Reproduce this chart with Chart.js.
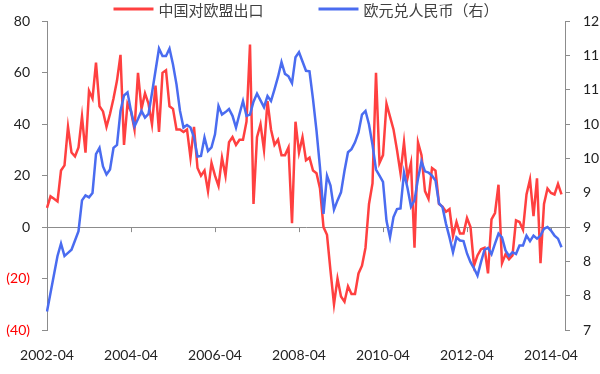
<!DOCTYPE html>
<html><head><meta charset="UTF-8">
<script src="https://cdn.jsdelivr.net/npm/chart.js@4"></script>
<style>
html,body{margin:0;padding:0;background:#fff;}
</style></head><body>
<canvas id="c" width="600" height="374"></canvas>
<script>
// monthly categories 2002-04 .. 2014-08
const months = [];
for (let y = 2002, m = 4; months.length < 149; m++) {
    if (m > 12) { m = 1; y++; }
    months.push(y + '-' + String(m).padStart(2, '0'));
}
const xTickLabels = ['2002-04','2004-04','2006-04','2008-04','2010-04','2012-04','2014-04'];
const rightTickLabels = ['7','8','8','9','9','10','10','11','11','12'];

// 中国对欧盟出口 同比 (%), left axis
const exportsEU = [
    7.5,12,11,10,22,24,39,29,27.5,31, 43,29,53,50,64,47,45,39,44,50, 57,67,32,48,45,38,
    60,46,52,48,40,55,37,60,61,47, 46,38,38,37,38,27,39,23,20,22, 14,25,20,16,
    27,20,33,35,32,34,34,41,71,9, 35,40,30,49,38,32,34,28,28,31, 1.5,41,29,35,26,
    27,22,21,15,0,-3,-17,-30,-20,-27, -29,-23,-26,-26,-18,-15,-8,9,17,60, 25,28,48,43,38,
    30,21,33,19,25,-8,33,28,14,11, 23,22,9,8,6,7,-3.5,2,-2.5,-2.5, 3.5,0,
    -15,-11,-8.6,-8,-18,3,5.5,16.5,-14,-10.6, -12.5,-11,2.6,2,-1,12.7,18.5,4.3,19,-14, 9,15,13.3,12.7,16.8,12.7, null
];
// 欧元兑人民币, right axis
const eurCny = [
    7.3,7.6,7.9,8.2,8.4,8.2,8.25,8.3,8.45,8.6, 9.1,9.18,9.15,9.22,9.85,9.95,9.65,9.52,9.6,9.95, 10.0,10.55,10.8,10.85,10.55,10.3,
    10.42,10.55,10.44,10.5,10.84,11.2,11.56,11.44,11.44,11.56, 11.3,10.98,10.55,10.28,10.32,10.28,10.12,9.81,9.82,10.12, 9.9,9.96,10.17,10.63,
    10.49,10.53,10.58,10.47,10.28,10.5,10.71,10.47,10.49,10.7, 10.83,10.72,10.61,10.79,10.71,10.9,11.1,11.34,11.15,11.11, 11.0,11.42,11.5,11.35,11.2,
    11.19,10.74,10.23,9.63,8.88,9.5,9.34,8.95,9.1,9.23, 9.58,9.88,9.93,10.04,10.2,10.49,10.55,10.33,10.0,9.6, 9.5,9.4,8.77,8.5,8.83,
    8.96,8.97,9.55,9.3,9.0,9.1,9.45,9.73,9.57,9.55, 9.5,9.42,9.05,8.99,8.72,8.5,8.26,8.5,8.45,8.44, 8.24,8.1,
    8.0,7.88,8.1,8.3,8.33,8.23,8.4,8.56,8.5,8.29, 8.2,8.26,8.23,8.37,8.37,8.53,8.44,8.53,8.48,8.53, 8.64,8.67,8.61,8.53,8.48,8.34, null
];

const RED = '#ff4040', BLUE = '#4a6cf0', AXIS = '#8c8c8c';
const tickFont = { family: 'Lato', size: 14 };

// small tick marks under the zero line + legend drawn over the top
const extras = {
    id: 'extras',
    beforeDatasetsDraw(chart) {
        const { ctx, scales: { x, y } } = chart;
        const y0 = y.getPixelForValue(0);
        ctx.save();
        ctx.strokeStyle = AXIS; ctx.lineWidth = 1;
        months.forEach((m, i) => {
            if (i === 0 || !xTickLabels.includes(m)) return;
            const px = Math.round(x.getPixelForValue(i)) + 0.5;
            ctx.beginPath(); ctx.moveTo(px, y0); ctx.lineTo(px, y0 + 5); ctx.stroke();
        });
        ctx.restore();
    },
    afterDraw(chart) {
        const { ctx, chartArea } = chart;
        ctx.save();
        ctx.font = '15px "Noto Sans CJK SC"';
        ctx.textBaseline = 'middle';
        const items = chart.data.datasets.map(d => ({ text: d.label, color: d.borderColor, w: ctx.measureText(d.label).width }));
        const lineLen = 40, gap = 5, between = 55, ly = 9;
        let total = items.reduce((s, it) => s + lineLen + gap + it.w, 0) + between * (items.length - 1);
        let lx = (chartArea.left + chartArea.right) / 2 - total / 2;
        items.forEach(it => {
            ctx.strokeStyle = it.color; ctx.lineWidth = 3;
            ctx.beginPath(); ctx.moveTo(lx, ly); ctx.lineTo(lx + lineLen, ly); ctx.stroke();
            ctx.fillStyle = '#404040';
            ctx.fillText(it.text, lx + lineLen + gap, ly + 1);
            lx += lineLen + gap + it.w + between;
        });
        ctx.restore();
    }
};

new Chart(document.getElementById('c'), {
    type: 'line',
    data: {
        labels: months,
        datasets: [
            { label: '中国对欧盟出口', data: exportsEU, borderColor: RED, backgroundColor: RED, borderWidth: 2.5, pointRadius: 0, tension: 0, yAxisID: 'y', order: 1 },
            { label: '欧元兑人民币（右）', data: eurCny, borderColor: BLUE, backgroundColor: BLUE, borderWidth: 2.5, pointRadius: 0, tension: 0, yAxisID: 'y1', order: 0 }
        ]
    },
    options: {
        responsive: false, animation: false,
        layout: { padding: { top: 20, left: 0, right: 0, bottom: 0 } },
        plugins: { legend: { display: false }, tooltip: { enabled: false } },
        scales: {
            x: {
                offset: false,
                grid: { display: false, drawTicks: false },
                border: { display: false },
                afterFit: s => { s.height = 44; },
                ticks: {
                    autoSkip: false, maxRotation: 0, padding: 17, color: '#222', font: tickFont,
                    callback: function (v) { const l = this.getLabelForValue(v); return xTickLabels.includes(l) ? l : null; }
                }
            },
            y: {
                position: 'left', min: -40, max: 80,
                afterFit: s => { s.width = 47; },
                border: { color: AXIS },
                grid: { color: c => c.tick && c.tick.value === 0 ? AXIS : 'rgba(0,0,0,0)', tickColor: AXIS, tickLength: 5 },
                ticks: {
                    stepSize: 20, padding: 12, font: tickFont,
                    color: c => c.tick.value < 0 ? '#ff0000' : '#222',
                    callback: v => v < 0 ? '(' + (-v) + ')' : v
                }
            },
            y1: {
                position: 'right', min: 7, max: 12,
                afterFit: s => { s.width = 35; },
                afterBuildTicks: s => {
                    s.ticks = rightTickLabels.map((t, i) => ({ value: s.min + i * (s.max - s.min) / (rightTickLabels.length - 1) }));
                },
                border: { color: AXIS },
                grid: { drawOnChartArea: false, tickColor: AXIS, tickLength: 5 },
                ticks: { padding: 13, color: '#222', font: tickFont, callback: (v, i) => rightTickLabels[i] }
            }
        }
    },
    plugins: [extras]
});
</script>
</body></html>
